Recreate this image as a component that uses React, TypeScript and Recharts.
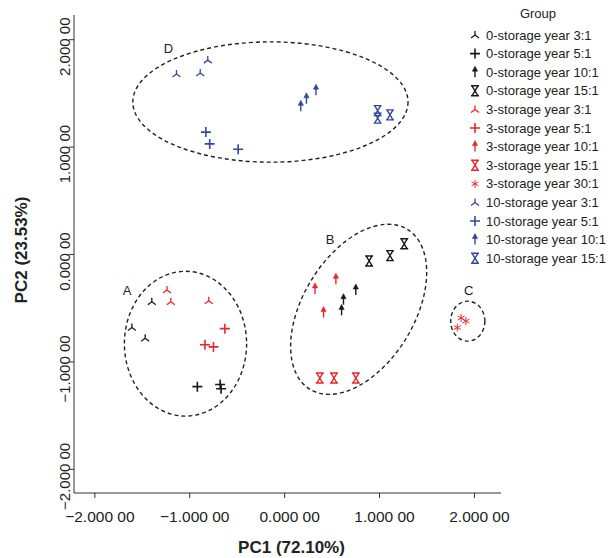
import React from 'react';
import { ScatterChart, Scatter, XAxis, YAxis, ReferenceArea, ReferenceDot } from 'recharts';

// ---- data (PC1, PC2) ----
const s0y3 = [{ x: -1.40, y: -0.44 }, { x: -1.61, y: -0.68 }, { x: -1.47, y: -0.78 }];
const s0y5 = [{ x: -0.92, y: -1.23 }, { x: -0.68, y: -1.21 }, { x: -0.67, y: -1.25 }];
const s0y10 = [{ x: 0.75, y: -0.33 }, { x: 0.62, y: -0.42 }, { x: 0.60, y: -0.52 }];
const s0y15 = [{ x: 0.89, y: -0.06 }, { x: 1.11, y: -0.01 }, { x: 1.26, y: 0.10 }];
const s3y3 = [{ x: -1.24, y: -0.33 }, { x: -1.20, y: -0.44 }, { x: -0.80, y: -0.43 }];
const s3y5 = [{ x: -0.63, y: -0.69 }, { x: -0.84, y: -0.84 }, { x: -0.75, y: -0.86 }];
const s3y10 = [{ x: 0.32, y: -0.32 }, { x: 0.54, y: -0.23 }, { x: 0.41, y: -0.54 }];
const s3y15 = [{ x: 0.37, y: -1.15 }, { x: 0.52, y: -1.15 }, { x: 0.75, y: -1.15 }];
const s3y30 = [{ x: 1.86, y: -0.59 }, { x: 1.91, y: -0.62 }, { x: 1.82, y: -0.68 }];
const s10y3 = [{ x: -1.14, y: 1.68 }, { x: -0.89, y: 1.69 }, { x: -0.81, y: 1.81 }];
const s10y5 = [{ x: -0.83, y: 1.14 }, { x: -0.79, y: 1.03 }, { x: -0.49, y: 0.98 }];
const s10y10 = [{ x: 0.17, y: 1.38 }, { x: 0.23, y: 1.45 }, { x: 0.33, y: 1.53 }];
const s10y15 = [{ x: 0.98, y: 1.34 }, { x: 0.98, y: 1.27 }, { x: 1.11, y: 1.30 }];

const xTicks = [-2, -1, 0, 1, 2];
const yTicks = [-2, -1, 0, 1, 2];

// cluster ellipses: centre and semi-axes in data units, rotation in degrees
const clusters = [
  { id: 'A', cx: -1.045, cy: -0.83, rx: 0.644, ry: 0.674, angle: 0, lx: -1.66, ly: -0.33 },
  { id: 'B', cx: 0.78, cy: -0.51, rx: 0.987, ry: 0.518, angle: -58.7, lx: 0.48, ly: 0.14 },
  { id: 'C', cx: 1.93, cy: -0.62, rx: 0.18, ry: 0.186, angle: 0, lx: 1.94, ly: -0.33 },
  { id: 'D', cx: -0.15, cy: 1.42, rx: 1.45, ry: 0.56, angle: 0, lx: -1.225, ly: 1.92 },
];

const BLACK = '#1a1a1a';
const RED = '#e8262b';
const BLUE = '#33479c';

const series = [
  { name: '0-storage year 3:1', data: s0y3, color: BLACK, marker: 'tri' },
  { name: '0-storage year 5:1', data: s0y5, color: BLACK, marker: 'plus' },
  { name: '0-storage year 10:1', data: s0y10, color: BLACK, marker: 'arrow' },
  { name: '0-storage year 15:1', data: s0y15, color: BLACK, marker: 'hourglass' },
  { name: '3-storage year 3:1', data: s3y3, color: RED, marker: 'tri' },
  { name: '3-storage year 5:1', data: s3y5, color: RED, marker: 'plus' },
  { name: '3-storage year 10:1', data: s3y10, color: RED, marker: 'arrow' },
  { name: '3-storage year 15:1', data: s3y15, color: RED, marker: 'hourglass' },
  { name: '3-storage year 30:1', data: s3y30, color: RED, marker: 'star' },
  { name: '10-storage year 3:1', data: s10y3, color: BLUE, marker: 'tri' },
  { name: '10-storage year 5:1', data: s10y5, color: BLUE, marker: 'plus' },
  { name: '10-storage year 10:1', data: s10y10, color: BLUE, marker: 'arrow' },
  { name: '10-storage year 15:1', data: s10y15, color: BLUE, marker: 'hourglass' },
];

const FONT = '"Liberation Sans", Arial, sans-serif';
const TEXT = '#222';

function Marker({ type, color, cx, cy }: { type: string; color: string; cx: number; cy: number }) {
  if (cx == null || cy == null) return null;
  switch (type) {
    case 'tri':
      return (
        <path
          d={`M${cx},${cy} L${cx},${cy - 4} M${cx},${cy} L${cx - 4},${cy + 3} M${cx},${cy} L${cx + 4},${cy + 3}`}
          stroke={color}
          strokeWidth={1.3}
          fill="none"
        />
      );
    case 'plus':
      return (
        <path
          d={`M${cx - 5},${cy} H${cx + 5} M${cx},${cy - 5} V${cy + 5}`}
          stroke={color}
          strokeWidth={1.6}
          fill="none"
        />
      );
    case 'arrow':
      return (
        <g>
          <path d={`M${cx},${cy + 5} V${cy - 2}`} stroke={color} strokeWidth={1.4} />
          <path d={`M${cx},${cy - 6} L${cx - 2.6},${cy - 1} L${cx + 2.6},${cy - 1} Z`} fill={color} stroke={color} strokeWidth={0.6} />
        </g>
      );
    case 'hourglass':
      return (
        <path
          d={`M${cx - 4},${cy - 5} H${cx + 4} M${cx - 4},${cy + 5} H${cx + 4} M${cx - 3},${cy - 5} L${cx + 3},${cy + 5} M${cx + 3},${cy - 5} L${cx - 3},${cy + 5}`}
          stroke={color}
          strokeWidth={1.4}
          fill="none"
        />
      );
    case 'star':
      return (
        <path
          d={`M${cx},${cy - 4} V${cy + 4} M${cx - 3.5},${cy - 2} L${cx + 3.5},${cy + 2} M${cx - 3.5},${cy + 2} L${cx + 3.5},${cy - 2}`}
          stroke={color}
          strokeWidth={1}
          fill="none"
        />
      );
    default:
      return null;
  }
}

const fmt = (v: number) => (v < 0 ? '\u2212' : '') + Math.abs(v).toFixed(3) + ' 00';

const XTick = (props: any) => {
  const { x, y, payload } = props;
  return (
    <text x={x + 5} y={y + 22} textAnchor="middle" fontFamily={FONT} fontSize={15.5} fill={TEXT}>
      {fmt(payload.value)}
    </text>
  );
};

const YTick = (props: any) => {
  const { x, y, payload } = props;
  const bx = x + 3;
  const by = y + 7;
  return (
    <text x={bx} y={by} textAnchor="middle" fontFamily={FONT} fontSize={15} fill={TEXT} transform={`rotate(-90, ${bx}, ${by})`}>
      {fmt(payload.value)}
    </text>
  );
};

const XTitle = (props: any) => {
  const vb = props.viewBox || {};
  return (
    <text x={vb.x + vb.width / 2 + 4} y={vb.y + 60} textAnchor="middle" fontFamily={FONT} fontWeight="bold" fontSize={17} fill={TEXT}>
      PC1 (72.10%)
    </text>
  );
};

const YTitle = (props: any) => {
  const vb = props.viewBox || {};
  const bx = 27;
  const by = vb.y + vb.height / 2 - 4;
  return (
    <text x={bx} y={by} textAnchor="middle" fontFamily={FONT} fontWeight="bold" fontSize={17} fill={TEXT} transform={`rotate(-90, ${bx}, ${by})`}>
      PC2 (23.53%)
    </text>
  );
};

function Legend() {
  const x0 = 475;
  const tx = 486;
  const y0 = 35;
  const step = 18.6;
  return (
    <svg width={608} height={558} style={{ position: 'absolute', left: 0, top: 0, pointerEvents: 'none' }}>
      <text x={538} y={18} textAnchor="middle" fontFamily={FONT} fontSize={13} fill={TEXT}>
        Group
      </text>
      {series.map((s, i) => (
        <g key={s.name}>
          <Marker type={s.marker} color={s.color} cx={x0} cy={y0 + i * step} />
          <text x={tx} y={y0 + i * step} dy="0.36em" fontFamily={FONT} fontSize={13} fill={TEXT}>
            {s.name}
          </text>
        </g>
      ))}
    </svg>
  );
}

export default function App() {
  return (
    <div style={{ position: 'absolute', left: 0, top: 0, width: 608, height: 558, background: '#fff' }}>
      <ScatterChart width={608} height={558} margin={{ top: 15, right: 107, bottom: 35, left: 14 }}>
        <XAxis
          type="number"
          dataKey="x"
          domain={[-2.22, 2.28]}
          ticks={xTicks}
          allowDataOverflow
          height={30}
          tickSize={5}
          stroke="#333"
          tickLine={{ stroke: '#333' }}
          tick={<XTick />}
          label={<XTitle />}
        />
        <YAxis
          type="number"
          dataKey="y"
          domain={[-2.22, 2.23]}
          ticks={yTicks}
          allowDataOverflow
          width={60}
          tickSize={5}
          stroke="#333"
          tickLine={{ stroke: '#333' }}
          tick={<YTick />}
          label={<YTitle />}
        />
        {clusters.map((c) => (
          <ReferenceArea
            key={'e' + c.id}
            x1={c.cx - c.rx}
            x2={c.cx + c.rx}
            y1={c.cy - c.ry}
            y2={c.cy + c.ry}
            ifOverflow="visible"
            shape={(p: any) => {
              const ex = p.x + p.width / 2;
              const ey = p.y + p.height / 2;
              return (
                <ellipse
                  cx={ex}
                  cy={ey}
                  rx={Math.abs(p.width) / 2}
                  ry={Math.abs(p.height) / 2}
                  transform={`rotate(${c.angle}, ${ex}, ${ey})`}
                  fill="none"
                  stroke="#222"
                  strokeWidth={1.4}
                  strokeDasharray="4 3"
                />
              );
            }}
          />
        ))}
        {clusters.map((c) => (
          <ReferenceDot
            key={'l' + c.id}
            x={c.lx}
            y={c.ly}
            ifOverflow="visible"
            shape={(p: any) => (
              <text x={p.cx} y={p.cy} dy="0.36em" textAnchor="middle" fontFamily={FONT} fontSize={13} fill={TEXT}>
                {c.id}
              </text>
            )}
          />
        ))}
        {series.map((s) => (
          <Scatter
            key={s.name}
            name={s.name}
            data={s.data}
            isAnimationActive={false}
            shape={(p: any) => <Marker type={s.marker} color={s.color} cx={p.cx} cy={p.cy} />}
          />
        ))}
      </ScatterChart>
      <Legend />
    </div>
  );
}
